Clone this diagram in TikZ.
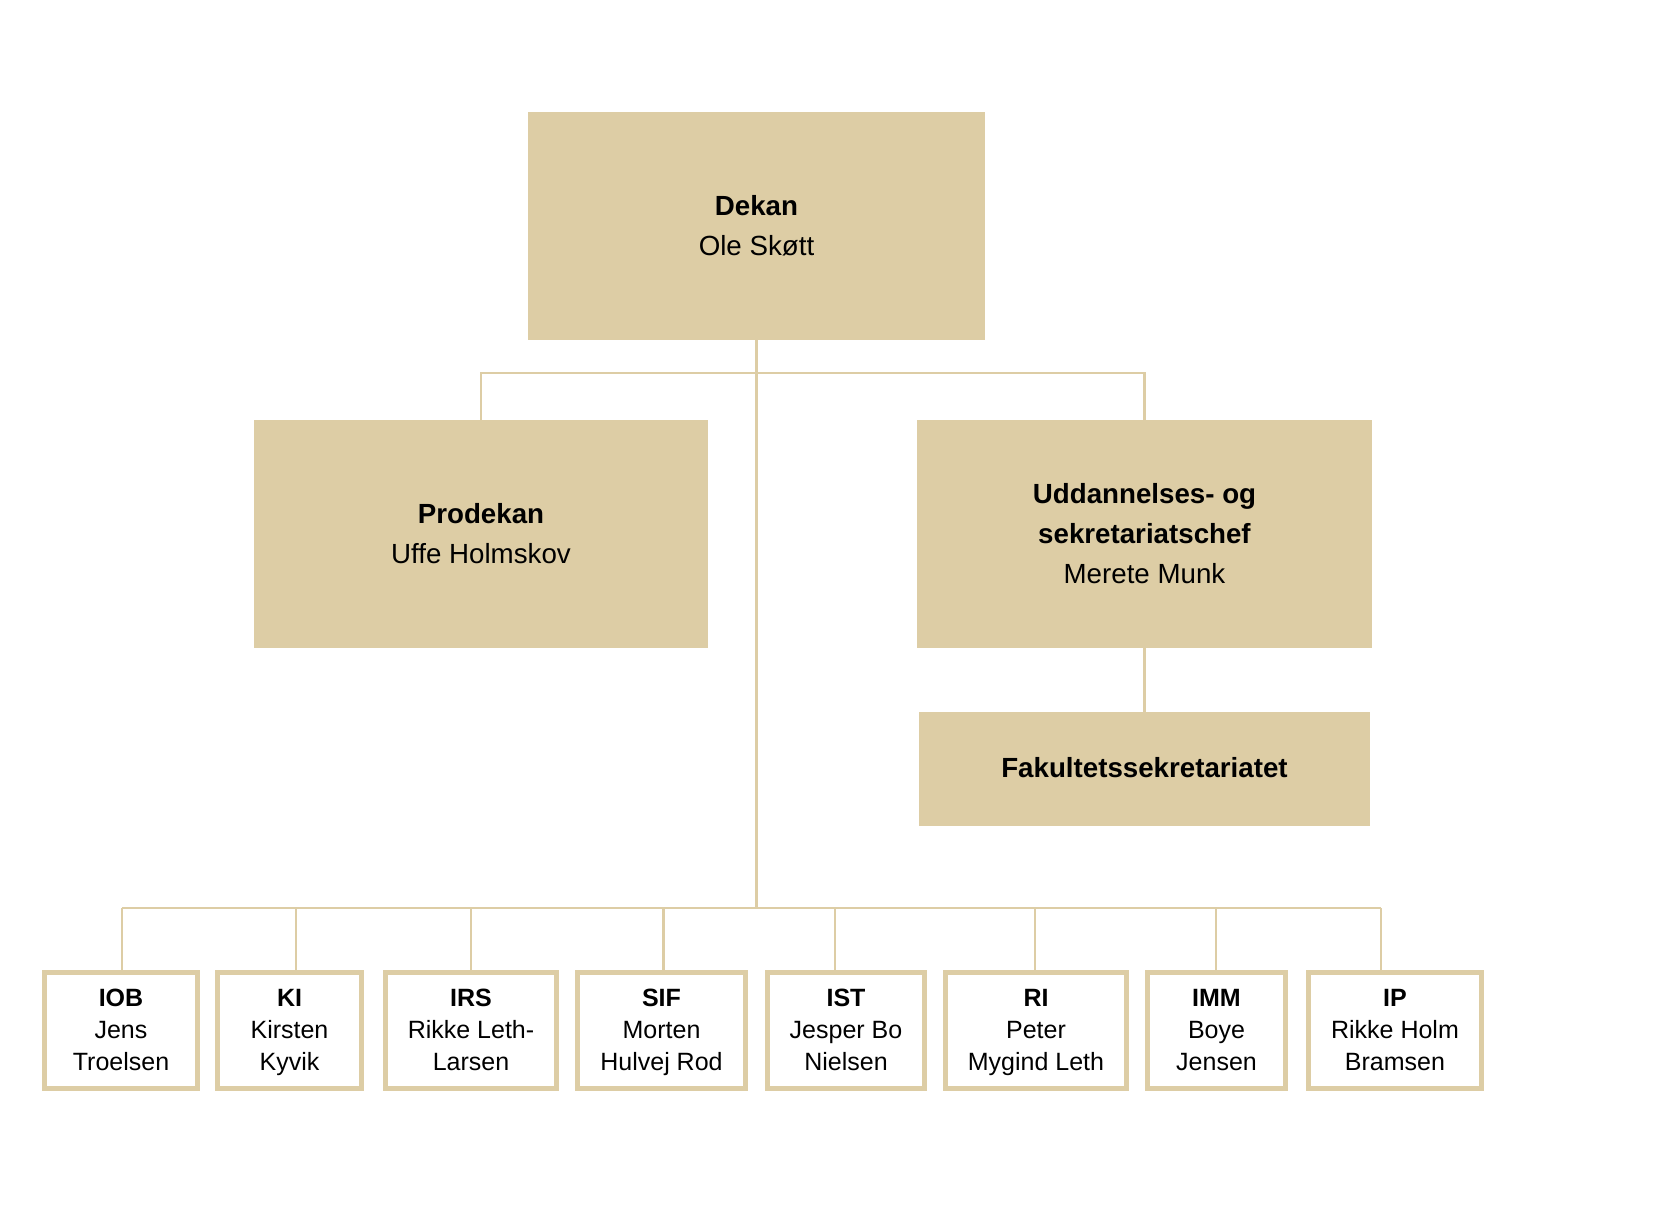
\documentclass[tikz,border=0pt]{standalone}
\usepackage{fontspec}
\setmainfont{Liberation Sans}
\usepackage{tikz}
\definecolor{sand}{RGB}{221,205,165}
\newcommand{\hangAt}[2]{\draw (#2 |- #1.north) to (#2 |- bus)}
\newcommand{\topline}[1]{\rule{0pt}{#1}}

\begin{document}
\begin{tikzpicture}[x=0.48pt,y=-0.48pt,
		lead/.style={fill=sand,inner sep=0pt,align=center,font=\fontsize{13.3}{19.2}\selectfont},
		unit/.style={draw=sand,line width=2.4pt,fill=white,inner sep=0pt,align=center,
			minimum width=#1*0.48pt,minimum height=116*0.48pt,font=\fontsize{12}{15.2}\selectfont}]
		\useasboundingbox (0,0) rectangle (1654,1223);
		
		\node[lead,minimum width=457*0.48pt,minimum height=228*0.48pt] (dekan) at (756.5,226) {\topline{15.3pt}\textbf{Dekan}\\Ole Skøtt\strut};
		\node[lead,minimum width=454*0.48pt,minimum height=228*0.48pt] (pro) at (481,534) {\topline{15.3pt}\textbf{Prodekan}\\Uffe Holmskov\strut};
		\node[lead,minimum width=455*0.48pt,minimum height=228*0.48pt] (udd) at (1144.5,534) {\topline{15.3pt}\textbf{Uddannelses- og}\\\textbf{sekretariatschef}\\Merete Munk\strut};
		\node[lead,minimum width=451*0.48pt,minimum height=114*0.48pt] (fak) at (1144.5,769) {\textbf{Fakultetssekretariatet}\strut};
		
		\node[unit=153] (i1) at (121,1030.5) {\topline{12.3pt}\textbf{IOB}\\Jens\\Troelsen\strut};
		\node[unit=144] (i2) at (289.5,1030.5) {\topline{12.3pt}\textbf{KI}\\Kirsten\\Kyvik\strut};
		\node[unit=171] (i3) at (471,1030.5) {\topline{12.3pt}\textbf{IRS}\\Rikke Leth-\\Larsen\strut};
		\node[unit=168] (i4) at (661.5,1030.5) {\topline{12.3pt}\textbf{SIF}\\Morten\\Hulvej Rod\strut};
		\node[unit=157] (i5) at (846,1030.5) {\topline{12.3pt}\textbf{IST}\\Jesper Bo\\Nielsen\strut};
		\node[unit=181] (i6) at (1036,1030.5) {\topline{12.3pt}\textbf{RI}\\Peter\\Mygind Leth\strut};
		\node[unit=138] (i7) at (1216.5,1030.5) {\topline{12.3pt}\textbf{IMM}\\Boye\\Jensen\strut};
		\node[unit=173] (i8) at (1395,1030.5) {\topline{12.3pt}\textbf{IP}\\Rikke Holm\\Bramsen\strut};
		
		\coordinate (split) at (756.5,373);
		\coordinate (bus) at (756.5,908);
		
		\begin{scope}[draw=sand,line width=1.4pt]
			\draw (dekan.south) to (dekan.south |- bus);
			\draw (pro.north) to (pro.north |- split) to (udd.north |- split) to (udd.north);
			\draw (udd.south) to (fak.north);
			\draw (122,0 |- bus) to (1381,0 |- bus);
			
			\hangAt{i1}{122,0};
			\hangAt{i2}{296,0};
			\hangAt{i3}{471,0};
			\hangAt{i4}{663.5,0};
			\hangAt{i5}{835,0};
			\hangAt{i6}{1035,0};
			\hangAt{i7}{1216,0};
			\hangAt{i8}{1381,0};
		\end{scope}
	\end{tikzpicture}
\end{document}
